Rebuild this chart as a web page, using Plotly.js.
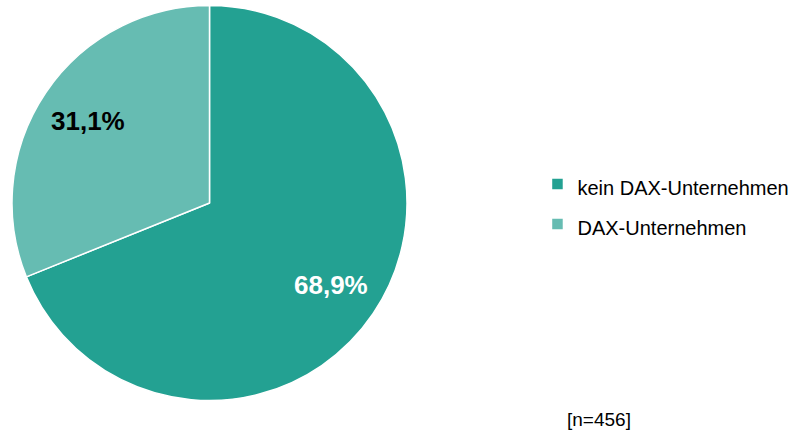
<!DOCTYPE html>
<html>
<head>
<meta charset="utf-8">
<script src="https://cdn.plot.ly/plotly-3.0.1.min.js"></script>
<style>
  html, body { margin: 0; padding: 0; background: #fff; }
  #chart { width: 801px; height: 432px; }
</style>
</head>
<body>
<div id="chart"></div>
<script>
// Anteile der Unternehmen
var categories = ['kein DAX-Unternehmen', 'DAX-Unternehmen'];
var shares = [68.9, 31.1];
var sliceColors = ['#23a192', '#66bcb2'];
var labelColors = ['#ffffff', '#000000'];
var sampleNote = '[n=456]';

var font = 'Arial, "Liberation Sans", sans-serif';

// pie domain (paper fractions)
var domX = [12 / 801, 407 / 801];
var domY = [31.5 / 432, 426.5 / 432];

// legend text kept at 20px, bigger legend font only sets the row spacing
var legendLabels = categories.map(function (c) {
    return '<span style="font-size:20px">' + c + '</span>';
});

var trace = {
    type: 'pie',
    labels: legendLabels,
    values: shares,
    sort: false,
    direction: 'clockwise',
    rotation: 0,
    marker: { colors: sliceColors, line: { color: '#ffffff', width: 1.5 } },
    textinfo: 'none',
    hoverinfo: 'skip',
    domain: { x: domX, y: domY }
};

// percentage labels placed on each slice's bisector, like the original
var W = 801, H = 432;
var cx = (domX[0] + domX[1]) / 2 * W;
var cy = (domY[0] + domY[1]) / 2 * H;
var R = (domX[1] - domX[0]) * W / 2;
var total = shares.reduce(function (a, b) { return a + b; }, 0);
var cum = 0;
var labelAnns = shares.map(function (v, i) {
    var mid = (cum + v / 2) / total * 2 * Math.PI;
    cum += v;
    var px = cx + 0.74 * R * Math.sin(mid);
    var py = cy + 0.74 * R * Math.cos(mid);
    return {
        text: '<b>' + v.toFixed(1).replace('.', ',') + '%</b>',
        xref: 'paper', yref: 'paper',
        x: px / W, y: py / H,
        xanchor: 'center', yanchor: 'middle',
        showarrow: false,
        font: { family: font, size: 26, color: labelColors[i] }
    };
});

var layout = {
    width: W,
    height: H,
    margin: { l: 0, r: 0, t: 0, b: 0 },
    paper_bgcolor: '#ffffff',
    font: { family: font, color: '#000000' },
    showlegend: true,
    legend: {
        x: 0.671,
        xanchor: 'left',
        y: 0.632,
        yanchor: 'top',
        font: { family: font, size: 28.5, color: '#000000' },
        bgcolor: 'rgba(0,0,0,0)'
    },
    annotations: labelAnns.concat([{
        text: sampleNote,
        xref: 'paper', yref: 'paper',
        x: 565 / W, y: 13 / H,
        xanchor: 'left', yanchor: 'middle',
        showarrow: false,
        font: { family: font, size: 19, color: '#000000' }
    }])
};

Plotly.newPlot('chart', [trace], layout, { staticPlot: true });
</script>
</body>
</html>
